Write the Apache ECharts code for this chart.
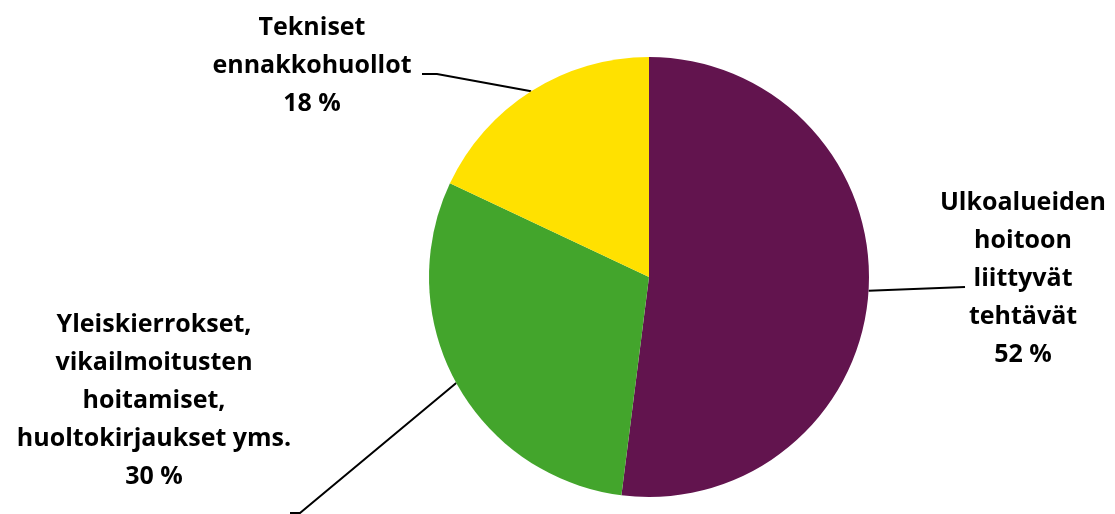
<!DOCTYPE html>
<html>
<head>
<meta charset="utf-8">
<script src="https://cdn.jsdelivr.net/npm/echarts@6/dist/echarts.min.js"></script>
<style>
    html, body {margin: 0; padding: 0; background: #fff;}
    #chart {width: 1115px; height: 514px;}
</style>
</head>
<body>
<div id="chart"></div>
<script>
// osuudet myötäpäivään ylhäältä alkaen
const categories = [
    'Ulkoalueiden\nhoitoon\nliittyvät\ntehtävät',
    'Yleiskierrokset,\nvikailmoitusten\nhoitamiset,\nhuoltokirjaukset yms.',
    'Tekniset\nennakkohuollot'
];
const values = [52, 30, 18];
const colors = ['#62144e', '#43a52c', '#ffe100'];

// labelien paikat (keskipiste) ja viivojen loppupäät
const labelPos = [
    {x: 1023, y: 279},
    {x: 154, y: 401},
    {x: 312, y: 66}
];
const lineEnds = [
    [[965, 287]],
    [[300, 513], [290, 513]],
    [[437, 74], [422, 74]]
];

const chart = echarts.init(document.getElementById('chart'));

chart.setOption({
    animation: false,
    textStyle: {fontFamily: 'Open Sans'},
    series: [{
        type: 'pie',
        center: [649, 277],
        radius: 220,
        startAngle: 90,
        clockwise: true,
        data: categories.map((name, i) => ({
            name: name,
            value: values[i],
            itemStyle: {color: colors[i]}
        })),
        label: {
            show: true,
            formatter: '{b}\n{c} %',
            color: '#000',
            fontWeight: 'bold',
            fontSize: 25,
            lineHeight: 38,
            align: 'center',
            fontFamily: 'Open Sans'
        },
        labelLine: {
            show: true,
            length: 20,
            length2: 15,
            lineStyle: {color: '#000', width: 2}
        },
        labelLayout: function (params) {
            const i = params.dataIndex;
            const p = labelPos[i];
            const start = params.labelLinePoints ? params.labelLinePoints[0] : null;
            const out = {
                x: p.x,
                y: p.y,
                align: 'center',
                verticalAlign: 'middle'
            };
            if (start) {
                out.labelLinePoints = [start].concat(lineEnds[i]);
            }
            return out;
        }
    }]
});
</script>
</body>
</html>
